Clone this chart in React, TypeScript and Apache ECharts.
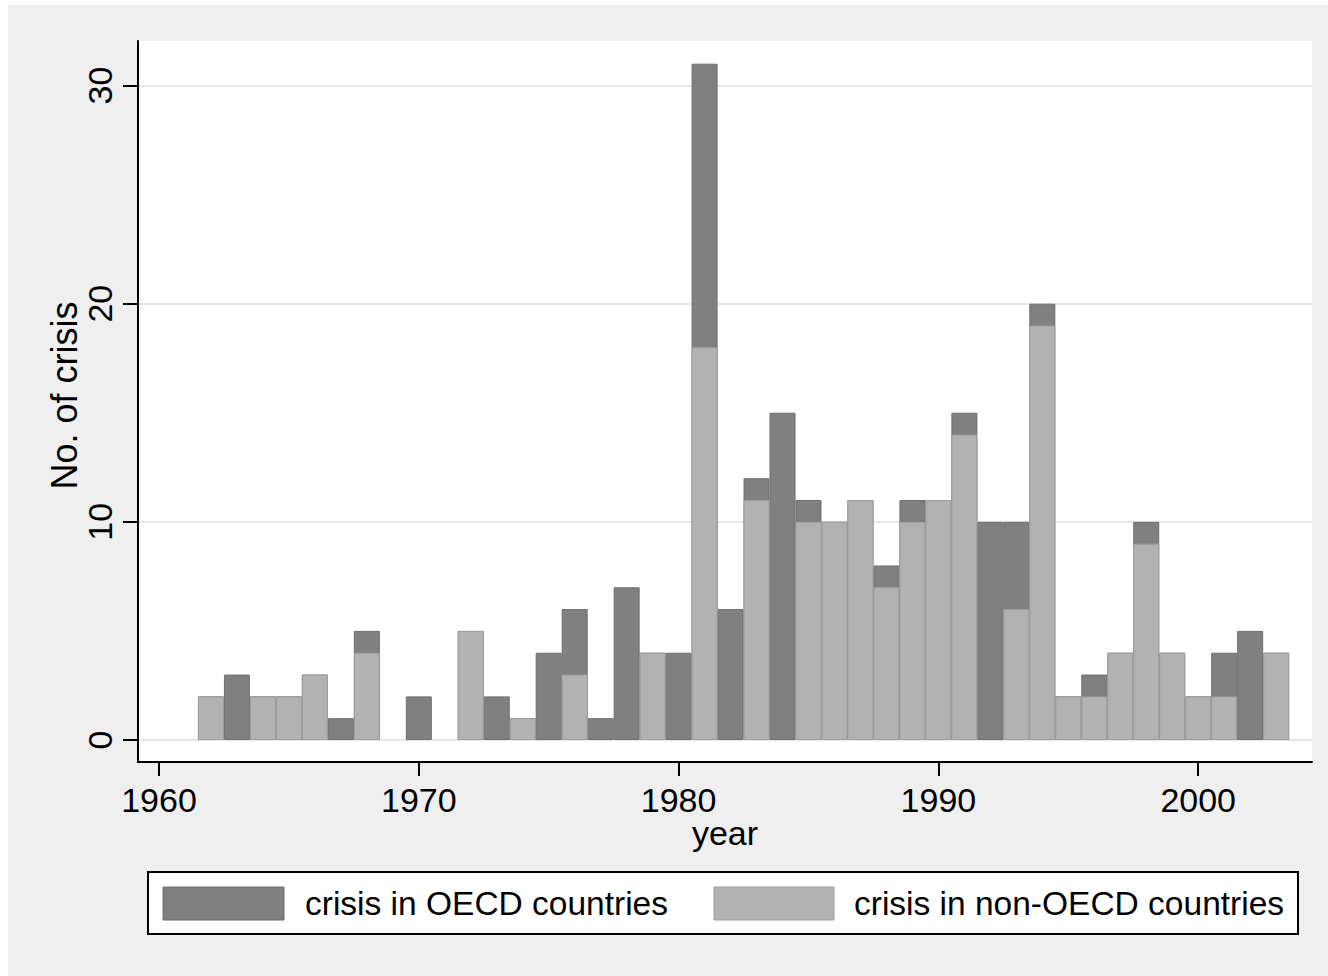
import React, { useEffect, useRef } from "react";
import * as echarts from "echarts";

const years = [1962, 1963, 1964, 1965, 1966, 1967, 1968, 1970, 1972, 1973, 1974, 1975, 1976, 1977, 1978, 1979, 1980, 1981, 1982, 1983, 1984, 1985, 1986, 1987, 1988, 1989, 1990, 1991, 1992, 1993, 1994, 1995, 1996, 1997, 1998, 1999, 2000, 2001, 2002, 2003];
const oecd = [0, 3, 0, 0, 0, 1, 1, 2, 0, 2, 0, 4, 3, 1, 7, 0, 4, 13, 6, 1, 15, 1, 0, 0, 1, 1, 0, 1, 10, 4, 1, 0, 1, 0, 1, 0, 0, 2, 5, 0];
const nonOecd = [2, 0, 2, 2, 3, 0, 4, 0, 5, 0, 1, 0, 3, 0, 0, 4, 0, 18, 0, 11, 0, 10, 10, 11, 7, 10, 11, 14, 0, 6, 19, 2, 2, 4, 9, 4, 2, 2, 0, 4];
const xTicks = [1960, 1970, 1980, 1990, 2000];
const yTicks = [0, 10, 20, 30];
const seriesNames = ["crisis in OECD countries", "crisis in non-OECD countries"];

const FONT = '"Liberation Sans", Arial, sans-serif';
const DARK = "#808080";
const LIGHT = "#b2b2b2";

export default function App() {
  const ref = useRef<HTMLDivElement>(null);
  useEffect(() => {
    if (!ref.current) return;
    const chart = echarts.init(ref.current, null, { renderer: "svg" });
    const totalData = years.map((y, i) => [y, oecd[i] + nonOecd[i]]);
    const lightData = years
      .map((y, i) => [y, nonOecd[i]])
      .filter((d) => d[1] > 0);
    chart.setOption({
      animation: false,
      backgroundColor: "#efefef",
      textStyle: { fontFamily: FONT },
      grid: {
        left: 130,
        top: 36,
        width: 1174,
        height: 721,
        show: true,
        backgroundColor: "#ffffff",
        borderWidth: 0,
      },
      xAxis: {
        type: "value",
        min: 1959.192,
        max: 2004.38,
        name: "year",
        nameLocation: "middle",
        nameGap: 54,
        nameMoveOverlap: false,
        nameTextStyle: { fontSize: 34, color: "#000", fontFamily: FONT },
        axisLine: { show: true, onZero: false, lineStyle: { color: "#000", width: 2 } },
        axisTick: { show: true, length: 14, customValues: xTicks, lineStyle: { color: "#000", width: 2 } },
        axisLabel: {
          customValues: xTicks,
          fontSize: 34,
          color: "#000",
          margin: 21,
          fontFamily: FONT,
          formatter: (v: number) => String(v),
        },
        splitLine: { show: false },
      },
      yAxis: {
        type: "value",
        min: -1.008,
        max: 32.04,
        name: "No. of crisis",
        nameLocation: "middle",
        nameRotate: 90,
        nameGap: 56,
        nameMoveOverlap: false,
        nameTextStyle: { fontSize: 36, color: "#000", fontFamily: FONT, padding: [0, 0, 0, 12] },
        axisLine: { show: true, onZero: false, lineStyle: { color: "#000", width: 2 } },
        axisTick: { show: true, length: 15, customValues: yTicks, lineStyle: { color: "#000", width: 2 } },
        axisLabel: {
          customValues: yTicks,
          rotate: 90,
          fontSize: 34,
          color: "#000",
          margin: 21,
          fontFamily: FONT,
          formatter: (v: number) => String(v),
        },
        splitLine: { show: true, lineStyle: { color: "#e6e6e6", width: 2 } },
      },
      series: [
        {
          name: seriesNames[0],
          type: "bar",
          data: totalData,
          barWidth: 26,
          barGap: "-100%",
          itemStyle: { color: DARK, borderColor: "#6e6e6e", borderWidth: 1 },
        },
        {
          name: seriesNames[1],
          type: "bar",
          data: lightData,
          barWidth: 26,
          barGap: "-100%",
          itemStyle: { color: LIGHT, borderColor: "#9e9e9e", borderWidth: 1 },
        },
      ],
      graphic: [
        {
          type: "rect",
          shape: { x: 140, y: 867, width: 1150, height: 62 },
          style: { fill: "#ffffff", stroke: "#000000", lineWidth: 2 },
        },
        {
          type: "rect",
          shape: { x: 155, y: 882, width: 121, height: 33 },
          style: { fill: DARK, stroke: "#6e6e6e", lineWidth: 1 },
        },
        {
          type: "text",
          x: 297,
          y: 898,
          style: { text: seriesNames[0], font: `33.5px ${FONT}`, fill: "#000", verticalAlign: "middle" },
        },
        {
          type: "rect",
          shape: { x: 706, y: 882, width: 120, height: 33 },
          style: { fill: LIGHT, stroke: "#9e9e9e", lineWidth: 1 },
        },
        {
          type: "text",
          x: 846,
          y: 898,
          style: { text: seriesNames[1], font: `33.5px ${FONT}`, fill: "#000", verticalAlign: "middle" },
        },
      ],
    });
    return () => chart.dispose();
  }, []);
  return (
    <div style={{ position: "absolute", left: 0, top: 0, width: 1328, height: 976, background: "#ffffff" }}>
      <div ref={ref} style={{ position: "absolute", left: 8, top: 5, width: 1320, height: 971 }} />
    </div>
  );
}
